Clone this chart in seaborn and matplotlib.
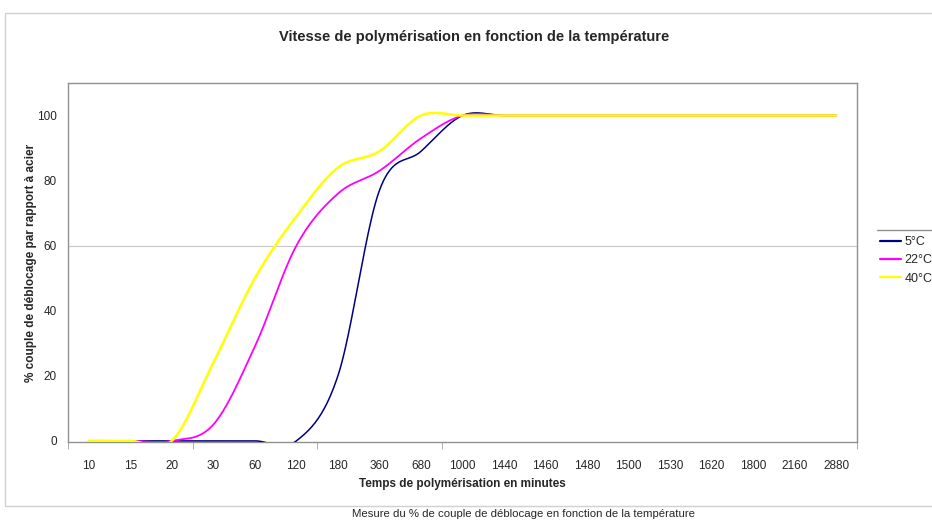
import matplotlib
matplotlib.use("Agg")
import matplotlib.pyplot as plt
import matplotlib.patches as mpatches
import numpy as np
import pandas as pd
import seaborn as sns

# categories on the x axis (minutes) and readings (% of steel torque)
temps = ["10", "15", "20", "30", "60", "120", "180", "360", "680", "1000",
         "1440", "1460", "1480", "1500", "1530", "1620", "1800", "2160",
         "2880"]
serie_5 = [0, 0, 0, 0, 0, 0, 20, 77, 89, 100,
           100, 100, 100, 100, 100, 100, 100, 100, 100]
serie_22 = [0, 0, 0, 5, 29, 60, 76, 83, 93, 100,
            100, 100, 100, 100, 100, 100, 100, 100, 100]
serie_40 = [0, 0, 0, 24, 50, 69, 84, 89, 100, 100,
            100, 100, 100, 100, 100, 100, 100, 100, 100]
noms = ["5°C", "22°C", "40°C"]
couleurs = ["#000080", "#FF00FF", "#FFFF00"]
epaisseurs = [1.1, 1.3, 1.8]


def lisser(valeurs, n=40):
    """Smoothed line like the spreadsheet (Catmull-Rom between points)."""
    v = np.asarray(valeurs, dtype=float)
    xs, ys = [], []
    for i in range(len(v) - 1):
        prev = v[i - 1] if i > 0 else v[i]
        nxt = v[i + 2] if i + 2 < len(v) else v[i + 1]
        m0 = (v[i + 1] - prev) / 2
        m1 = (nxt - v[i]) / 2
        t = np.linspace(0, 1, n, endpoint=False)
        h00 = 2 * t**3 - 3 * t**2 + 1
        h10 = t**3 - 2 * t**2 + t
        h01 = -2 * t**3 + 3 * t**2
        h11 = t**3 - t**2
        xs.append(i + t)
        ys.append(h00 * v[i] + h10 * m0 + h01 * v[i + 1] + h11 * m1)
    xs.append([len(v) - 1])
    ys.append([v[-1]])
    return np.concatenate(xs), np.concatenate(ys)


sns.set_style("white")
plt.rcParams["font.family"] = ["Liberation Sans", "DejaVu Sans"]

fig = plt.figure(figsize=(9.32, 5.21), dpi=100)
ax = fig.add_axes([68 / 932, 1 - 442 / 521, (857 - 68) / 932, (442 - 83) / 521])

# outer chart frame
fig.patches.append(mpatches.Rectangle(
    (5 / 932, 1 - 506 / 521), 1.0, (506 - 13) / 521,
    transform=fig.transFigure, fill=False, edgecolor="#d0d0d0", lw=1.0))

for nom, serie, c, lw in zip(noms, [serie_5, serie_22, serie_40],
                             couleurs, epaisseurs):
    x, y = lisser(serie)
    d = pd.DataFrame({"x": x, "y": y})
    sns.lineplot(data=d, x="x", y="y", color=c, lw=lw, estimator=None,
                 sort=False, ax=ax, zorder=3, label=nom, legend=False)

ax.axhline(60, color="#c8c8c8", lw=0.8, zorder=1)
ax.set_xlim(-0.5, len(temps) - 0.5)
ax.set_ylim(-0.35, 110)
ax.set_yticks([0, 20, 40, 60, 80, 100])
ax.set_xticks(range(len(temps)), temps)
ax.set_xticks([-0.5, 2.5, 5.5, 8.5, len(temps) - 0.5], minor=True)
ax.tick_params(axis="x", which="major", length=0, pad=13, labelsize=8.5)
ax.tick_params(axis="x", which="minor", length=5, color="#a0a0a0",
               direction="out", bottom=True)
ax.tick_params(axis="y", length=0, pad=8, labelsize=8.5)
for s in ax.spines.values():
    s.set_color("#909090")
    s.set_linewidth(1.0)

ax.set_xlabel("Temps de polymérisation en minutes", fontsize=8.5,
              fontweight="bold", labelpad=4)
ax.set_ylabel("% couple de déblocage par rapport à acier", fontsize=8.5,
              fontweight="bold", labelpad=0)
fig.text(474 / 932, 1 - 37 / 521,
         "Vitesse de polymérisation en fonction de la température",
         ha="center", va="center", fontsize=10.5, fontweight="bold")
fig.text(523 / 932, 1 - 514 / 521,
         "Mesure du % de couple de déblocage en fonction de la température",
         ha="center", va="center", fontsize=8.2)

handles = [plt.Line2D([], [], color=c, lw=1.6) for c in couleurs]
fig.legend(handles, noms, loc="upper left",
           bbox_to_anchor=(880 / 932, 1 - 236 / 521), fontsize=9,
           frameon=False, handlelength=1.7, handletextpad=0.25,
           borderpad=0, borderaxespad=0, labelspacing=0.5)
# top edge of the legend box (the rest falls outside the picture)
fig.add_artist(plt.Line2D([877 / 932, 1.0], [1 - 230 / 521, 1 - 230 / 521],
                          transform=fig.transFigure, color="#909090", lw=1.0))

fig.savefig("out.png", dpi=100)
